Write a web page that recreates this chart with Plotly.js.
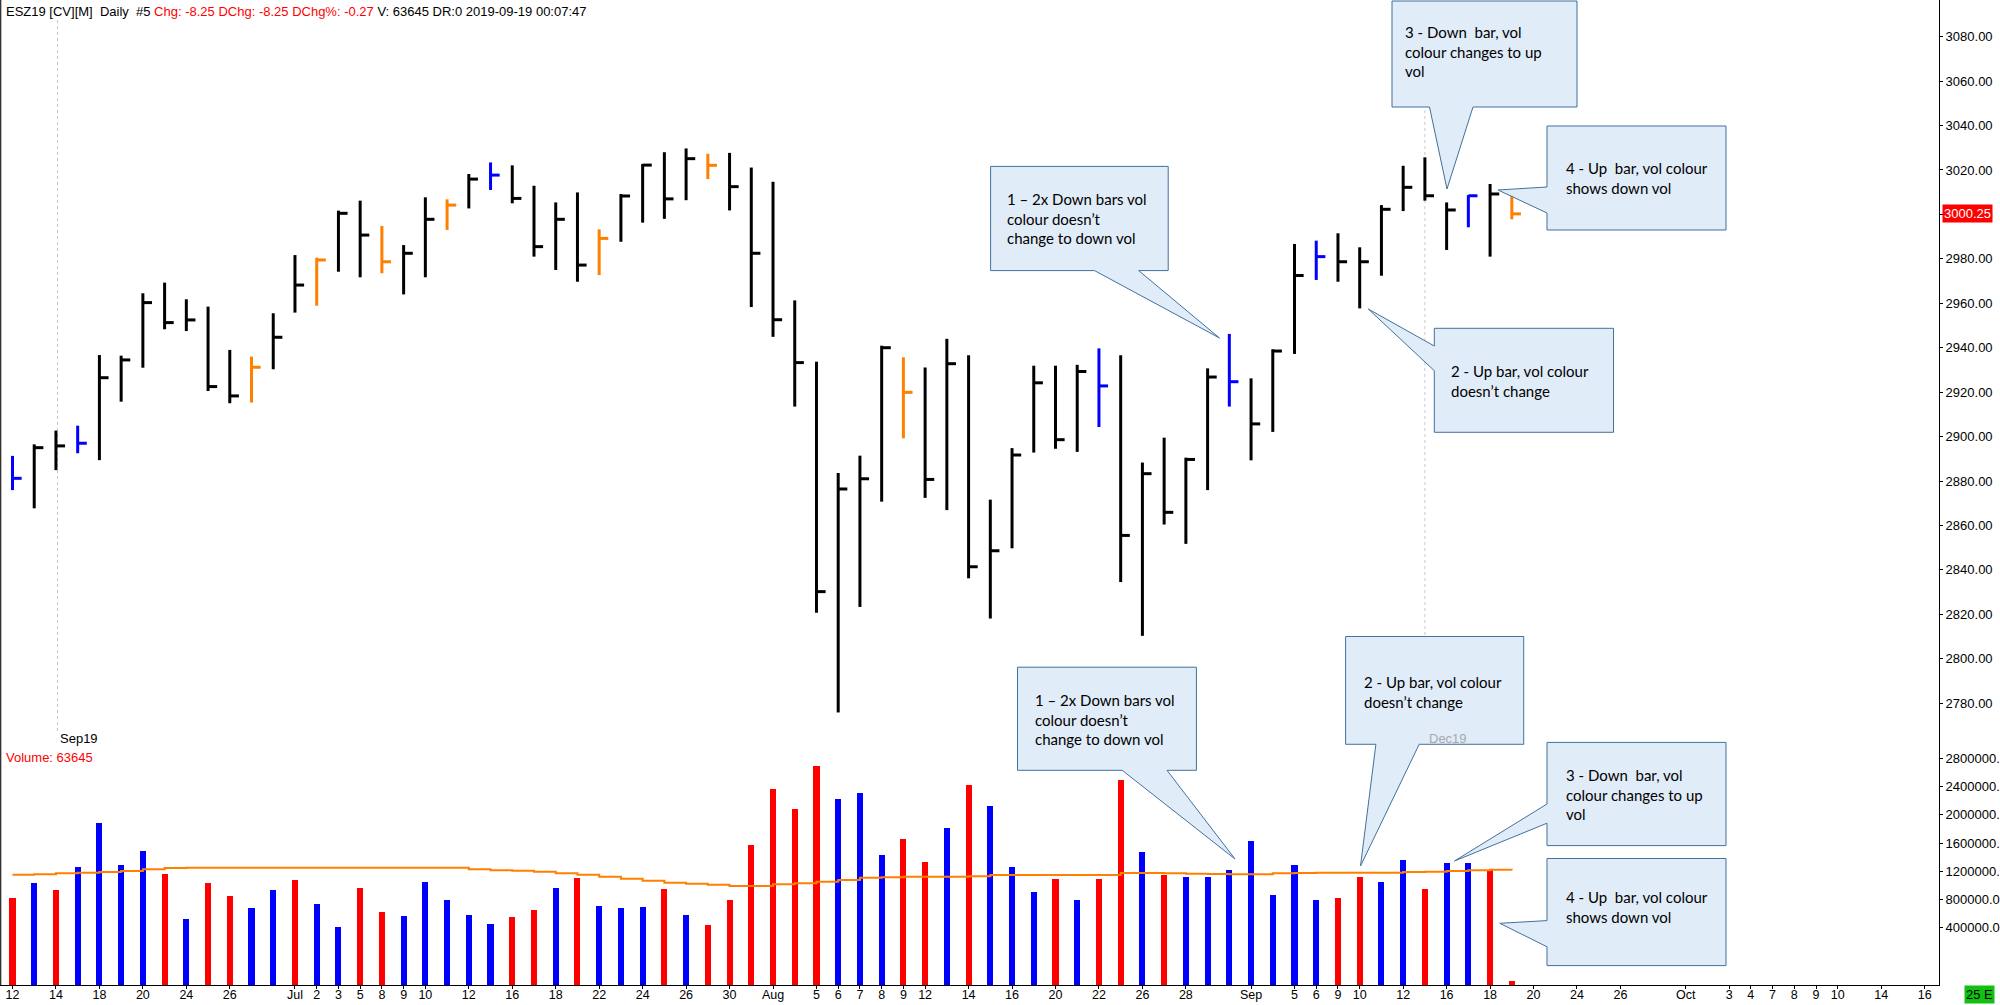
<!DOCTYPE html>
<html>
<head>
<meta charset="utf-8">
<script src="https://cdn.plot.ly/plotly-3.0.1.min.js"></script>
<style>html,body{margin:0;padding:0;background:#fff;}#chart{width:2000px;height:1005px;}</style>
</head>
<body>
<div id="chart"></div>
<script>
// ---------- DATA ----------
// bar index 0 = 2019-06-12 ... 69 = 2019-09-19 (trading days)
const highs = [2891.3,2896.5,2902.7,2904.9,2936.7,2936.4,2964.5,2969.3,2961.8,2958.5,
  2939.0,2936.0,2955.5,2981.7,2980.5,3001.7,3006.2,2994.8,2986.2,3007.7,
  3006.8,3018.2,3023.4,3022.1,3012.9,3005.4,3009.9,2993.3,3009.2,3022.7,
  3028.0,3029.7,3027.3,3027.7,3021.1,3014.7,2961.3,2933.7,2883.6,2891.4,
  2940.9,2935.7,2931.1,2944.0,2936.6,2871.6,2894.8,2931.9,2931.9,2932.3,
  2939.7,2936.6,2888.3,2899.5,2890.5,2930.7,2946.2,2926.2,2939.3,2986.7,
  2988.2,2991.5,2985.2,3004.2,3021.9,3025.7,3005.4,3008.7,3013.7,3009.0];
const lows = [2875.9,2867.7,2884.9,2892.5,2889.4,2915.7,2931.0,2948.3,2947.5,2920.5,
  2915.0,2915.3,2930.3,2955.8,2958.9,2974.2,2971.7,2973.5,2964.0,2971.7,
  2993.0,3002.7,3011.0,3005.0,2981.0,2975.0,2969.7,2972.7,2987.7,2996.3,
  2998.0,3006.4,3015.9,3001.8,2958.3,2944.9,2913.5,2820.7,2775.8,2823.3,
  2870.7,2899.2,2872.4,2866.9,2836.2,2818.1,2849.7,2892.8,2894.5,2893.1,
  2904.3,2834.5,2810.3,2860.4,2851.7,2875.9,2913.5,2889.3,2902.1,2937.2,
  2970.5,2969.7,2957.7,2972.4,3001.5,3006.2,2984.0,2994.2,2981.0,2997.8];
const closes = [2881.2,2895.0,2895.8,2897.0,2926.5,2934.5,2960.3,2951.3,2952.5,2922.5,
  2918.3,2931.2,2944.7,2968.2,2979.5,3000.5,2990.7,2978.7,2982.5,2997.8,
  3004.2,3015.9,3017.7,3007.2,2985.5,2997.8,2977.2,2989.2,3008.3,3022.2,
  3007.0,3025.1,3022.1,3012.5,2982.5,2952.6,2933.3,2830.2,2876.4,2881.0,
  2940.0,2919.9,2880.7,2932.8,2841.4,2848.6,2891.7,2924.2,2898.6,2929.3,
  2922.8,2855.5,2883.3,2865.9,2889.7,2926.8,2924.7,2905.7,2938.5,2972.5,
  2981.0,2978.7,2978.7,3002.3,3012.2,3008.4,3002.0,3008.4,3009.2,3000.25];
// price bar colour code: K black, B blue, O orange
const priceColorCodes = "BKKBKKKKKKKOKKOKKOKKOKBKKKKOKKKKOKKKKKKKKOKKKKKKKKBKKKKKBKKKBKKKKKKBKO".split("");
const volumes = [1228000,1441000,1346000,1677000,2291000,1700000,1903000,1568000,930000,1441000,
  1266000,1086000,1346000,1488000,1143000,827000,1370000,1039000,982000,1455000,
  1204000,992000,864000,968000,1063000,1370000,1511000,1124000,1086000,1100000,
  1356000,992000,850000,1204000,1984000,2777000,2489000,3103000,2635000,2725000,
  1837000,2064000,1738000,2225000,2829000,2536000,1667000,1313000,1502000,1204000,
  1502000,2900000,1880000,1559000,1530000,1530000,1634000,2040000,1275000,1705000,
  1204000,1228000,1530000,1455000,1776000,1360000,1729000,1729000,1634000,63645];
// volume colour code: R red, B blue
const volColorCodes = "RBRBBBBRBRRBBRBBRRBBBBBRRBRBBBRBRRRRRRBBBRRBRBBBRBRRBRBBBBBBBRRBBRBBRR".split("");
const volMA = [1563000,1568000,1582000,1592000,1601000,1615000,1639000,1658000,1662000,1662000,
  1662000,1662000,1662000,1662000,1662000,1662000,1662000,1662000,1662000,1662000,
  1662000,1639000,1625000,1620000,1606000,1582000,1563000,1535000,1507000,1478000,
  1450000,1436000,1422000,1403000,1403000,1426000,1441000,1464000,1488000,1521000,
  1526000,1535000,1535000,1535000,1540000,1559000,1559000,1559000,1559000,1559000,
  1559000,1587000,1587000,1582000,1578000,1573000,1568000,1568000,1582000,1587000,
  1592000,1592000,1592000,1592000,1601000,1606000,1615000,1625000,1634000,1629000];
const tickPos = [0,2,4,6,8,10,13,14,15,16,17,18,19,21,23,25,27,29,31,33,35,37,38,39,40,41,42,44,46,48,50,52,54,57,59,60,61,62,64,66,68,70,72,74,77,79,80,81,82,83,84,86,88];
const tickLabels = ["12","14","18","20","24","26","Jul","2","3","5","8","9","10","12","16","18","22","24","26","30","Aug","5","6","7","8","9","12","14","16","20","22","26","28","Sep","5","6","9","10","12","16","18","20","24","26","Oct","3","4","7","8","9","10","14","16"];
const volTickLabels = [400000,800000,1200000,1600000,2000000,2400000,2800000];
const volAxisLabelShift = 412000; // the source platform prints its volume scale shifted
const lastPrice = 3000.25;
const contractRolls = [{bar:2,label:"Sep19",color:"#000000"},{bar:65,label:"Dec19",color:"#A8A8A8"}];

// ---------- GEOMETRY HELPERS ----------
const PW = 1939, PH = 985;
const px = p => p / PW;
const py = p => 1 - p / PH;
const colorMap = {K:"#000000", B:"#0000FF", O:"#FF8000"};
const volColorMap = {R:"#FF0000", B:"#0000FF"};
const TICK = 0.42;

// ---------- TRACES ----------
const traces = [];
["K","B","O"].forEach(code => {
  const xs = [], ys = [];
  for (let i = 0; i < highs.length; i++) {
    if (priceColorCodes[i] !== code) continue;
    xs.push(i, i, null, i, i + TICK, null);
    ys.push(lows[i], highs[i], null, closes[i], closes[i], null);
  }
  traces.push({type:"scatter", mode:"lines", x:xs, y:ys, xaxis:"x", yaxis:"y",
    line:{color:colorMap[code], width:3}, hoverinfo:"skip", connectgaps:false});
});
traces.push({type:"bar", x:volumes.map((v,i)=>i), y:volumes, xaxis:"x", yaxis:"y2",
  width:0.28, marker:{color:volColorCodes.map(c=>volColorMap[c]), line:{width:0}}});
traces.push({type:"scatter", mode:"lines", x:volMA.map((v,i)=>i), y:volMA, xaxis:"x", yaxis:"y2",
  line:{color:"#FF8000", width:2, shape:"hv"}});

// ---------- CALLOUTS ----------
const callouts = [
  {pts:[[1392,1],[1577,1],[1577,107],[1473,107],[1447,189],[1429.5,107],[1392,107]],
   text:"3 - Down  bar, vol<br>colour changes to up<br>vol", tx:1403, ty:32},
  {pts:[[1547,126],[1726,126],[1726,230],[1547,230],[1547,213],[1498,190],[1547,187]],
   text:"4 - Up  bar, vol colour<br>shows down vol", tx:1564, ty:168},
  {pts:[[990.6,166.4],[1168.2,166.4],[1168.2,270.6],[1138.7,270.6],[1219.5,338],[1094.5,270.6],[990.6,270.6]],
   text:"1 – 2x Down bars vol<br>colour doesn’t<br>change to down vol", tx:1005, ty:199},
  {pts:[[1434.3,328.3],[1613.5,328.3],[1613.5,432.3],[1434.3,432.3],[1434.3,370.7],[1368.3,309],[1434.3,346]],
   text:"2 - Up bar, vol colour<br>doesn’t change", tx:1449, ty:371},
  {pts:[[1017.5,667.2],[1196.4,667.2],[1196.4,770.3],[1167,770.3],[1235,859],[1122.2,770.3],[1017.5,770.3]],
   text:"1 – 2x Down bars vol<br>colour doesn’t<br>change to down vol", tx:1033, ty:700},
  {pts:[[1345.6,636.5],[1523.7,636.5],[1523.7,744.3],[1419.2,744.3],[1360.5,866],[1375.9,744.3],[1345.6,744.3]],
   text:"2 - Up bar, vol colour<br>doesn’t change", tx:1362, ty:682},
  {pts:[[1547,742.4],[1726,742.4],[1726,845.6],[1547,845.6],[1547,823.2],[1454.5,861],[1547,804]],
   text:"3 - Down  bar, vol<br>colour changes to up<br>vol", tx:1564, ty:775},
  {pts:[[1547,858.5],[1726,858.5],[1726,965.6],[1547,965.6],[1547,946.8],[1499.8,923.3],[1547,920.6]],
   text:"4 - Up  bar, vol colour<br>shows down vol", tx:1564, ty:897}
];

const shapes = [];
const annotations = [];
// left border
shapes.push({type:"line", xref:"paper", yref:"paper", x0:0.0003, x1:0.0003, y0:0, y1:1,
  line:{color:"#333333", width:1.5}});
// contract roll dotted lines
contractRolls.forEach((r, k) => {
  shapes.push({type:"line", xref:"x", yref:"paper", x0:r.bar + (k===0?0.07:0), x1:r.bar + (k===0?0.07:0),
    y0:py(731), y1:py(k===0?18:107), line:{color:"#C8C8C8", width:1, dash:"dot"}, layer:"below"});
  annotations.push({xref:"x", yref:"paper", x:r.bar, y:py(738), xanchor:"left", yanchor:"middle",
    xshift:2, text:r.label, showarrow:false, font:{family:"Liberation Sans, Arial", size:13, color:r.color}});
});
callouts.forEach(c => {
  const d = c.pts.map((p,i)=>(i===0?"M":"L")+px(p[0]).toFixed(5)+","+py(p[1]).toFixed(5)).join(" ")+" Z";
  shapes.push({type:"path", xref:"paper", yref:"paper", path:d, layer:"above",
    fillcolor:"rgba(222,235,247,0.93)", line:{color:"#41719C", width:1}});
  annotations.push({xref:"paper", yref:"paper", x:px(c.tx), y:py(c.ty - 11), xanchor:"left", yanchor:"top",
    align:"left", text:c.text, showarrow:false, font:{family:"Lato, 'Open Sans', sans-serif", size:15, color:"#000000"}});
});

// header
annotations.push({xref:"paper", yref:"paper", x:px(4), y:py(12), xanchor:"left", yanchor:"middle", showarrow:false,
  text:'ESZ19 [CV][M]  Daily  #5 <span style="color:#FF0000">Chg: -8.25 DChg: -8.25 DChg%: -0.27</span> V: 63645 DR:0 2019-09-19 00:07:47',
  font:{family:"Liberation Sans, Arial", size:13, color:"#000000"}});
annotations.push({xref:"paper", yref:"paper", x:px(4), y:py(757), xanchor:"left", yanchor:"middle", showarrow:false,
  text:"Volume: " + volumes[volumes.length-1], font:{family:"Liberation Sans, Arial", size:13, color:"#FF0000"}});
// last price label
annotations.push({xref:"paper", yref:"y", x:px(1942), y:lastPrice, xanchor:"left", yanchor:"middle", showarrow:false,
  text:lastPrice.toFixed(2), bgcolor:"#FF0000", borderpad:1, font:{family:"Liberation Sans, Arial", size:13, color:"#FFFFFF"}});
// bottom-right status box
annotations.push({xref:"paper", yref:"paper", x:px(1964), y:py(994), xanchor:"left", yanchor:"middle", showarrow:false,
  text:"25 E", bgcolor:"#12C012", borderpad:1, font:{family:"Liberation Sans, Arial", size:13, color:"#000000"}});

// ---------- LAYOUT ----------
const Y_TOP_PRICE = 3080 + 36.7*0.45015, Y_BOT_PRICE = 3080 - (737-36.7)*0.45015;
const priceDomainBottom = (PH - 737) / PH;
const axisFont = {family:"Liberation Sans, Arial", size:13, color:"#000000"};
const layout = {
  width:2000, height:1005,
  margin:{l:0, r:61, t:0, b:20, pad:0},
  paper_bgcolor:"#ffffff", plot_bgcolor:"#ffffff",
  showlegend:false, bargap:0,
  xaxis:{range:[-0.575, 88.66], anchor:"y2", tickmode:"array", tickvals:tickPos, ticktext:tickLabels,
    ticks:"outside", ticklen:3, tickcolor:"#000", showline:true, linecolor:"#000", linewidth:1,
    ticklabelstandoff:-5,
    showgrid:false, zeroline:false, tickfont:{family:"Liberation Sans, Arial", size:12.5, color:"#000000"}, fixedrange:true},
  yaxis:{domain:[priceDomainBottom, 1], range:[Y_BOT_PRICE, Y_TOP_PRICE], side:"right", anchor:"x",
    dtick:20, tick0:0, tickformat:".2f", ticks:"outside", ticklen:3, tickcolor:"#000",
    showline:true, linecolor:"#000", linewidth:1, showgrid:false, zeroline:false, tickfont:axisFont},
  yaxis2:{domain:[0, priceDomainBottom], range:[0, (PH-737)*14169], side:"right", anchor:"x",
    tickmode:"array", tickvals:volTickLabels.map(v=>v+volAxisLabelShift), ticktext:volTickLabels.map(v=>v.toFixed(2).slice(0,8)),
    ticks:"outside", ticklen:3, tickcolor:"#000", showline:true, linecolor:"#000", linewidth:1,
    showgrid:false, zeroline:false, tickfont:axisFont},
  shapes:shapes, annotations:annotations
};
Plotly.newPlot("chart", traces, layout, {displayModeBar:false, staticPlot:true});
</script>
</body>
</html>
